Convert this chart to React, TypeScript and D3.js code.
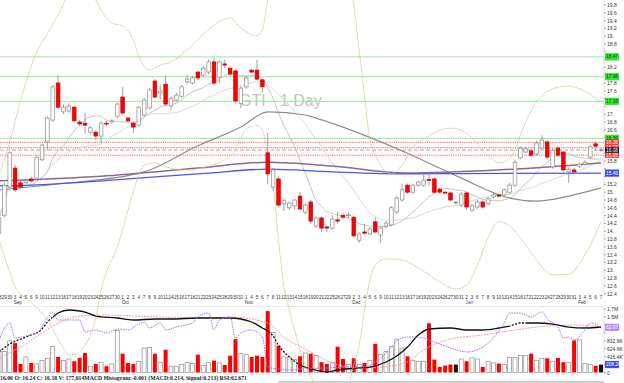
import React from 'react';
import * as d3 from 'd3';

const W = 624;
const H = 383;

// ---------- data ----------
const dayLabels = [
  '28','29','30',
  '3','4','5','6','9','10','11','12','13','16','17','18','19','20','23','24','25','26','27','30',
  '1','2','3','4','7','8','9','10','11','14','15','16','17','18','21','22','23','24','25','28','29','30','31',
  '1','4','5','6','7','8','11','12','13','14','15','18','19','20','21','22','25','26','27','29',
  '2','3','4','5','6','9','10','11','12','13','16','17','18','19','20','23','24','26','27','30','31',
  '2','3','6','7','8','9','10','13','14','15','16','17','21','22','23','24','27','28','29','30','31',
  '3','4','5','6','7'
];
const monthLabels = [
  { index: 3, label: 'Sep' },
  { index: 23, label: 'Oct' },
  { index: 46, label: 'Nov' },
  { index: 66, label: 'Dec' },
  { index: 87, label: 'Jan' },
  { index: 108, label: 'Feb' },
];

const opens = [13.95,14.41,15.13,15.62,15.24,15.24,15.34,15.36,15.83,16.29,16.85,17.80,17.06,17.08,17.18,16.80,16.77,16.54,16.54,16.44,16.77,16.80,16.95,17.44,16.90,16.77,16.72,16.98,17.16,17.85,17.54,17.77,17.21,17.36,17.46,17.83,17.80,18.08,18.00,18.08,18.34,17.95,18.29,18.18,18.11,17.28,17.70,18.13,18.13,17.88,16.01,15.13,15.34,14.70,14.60,14.65,14.90,14.49,14.75,14.13,14.34,14.11,14.08,14.29,14.41,14.40,14.36,13.77,13.98,13.93,14.24,13.90,14.13,14.16,14.49,14.80,15.18,15.00,15.18,15.18,15.33,15.34,15.08,15.00,14.98,14.73,14.67,14.98,14.54,14.62,14.75,14.70,14.88,14.93,14.93,15.00,15.18,15.88,16.03,16.06,15.98,16.13,16.29,15.65,16.13,16.03,15.52,15.57,15.67,15.72,15.90,16.24,16.08];
const highs = [14.40,15.25,16.05,15.70,15.30,15.35,15.40,15.95,16.25,16.95,17.75,18.00,17.25,17.28,17.22,16.85,17.05,16.70,16.58,16.82,16.82,16.88,17.30,17.70,16.95,16.80,17.22,17.42,17.68,17.90,17.75,18.00,17.46,17.54,17.75,18.00,17.98,18.12,18.24,18.40,18.45,18.38,18.40,18.22,18.15,17.72,17.98,18.16,18.40,17.92,16.52,15.62,15.40,14.84,14.76,14.82,15.00,14.72,14.80,14.38,14.38,14.14,14.42,14.50,14.46,14.48,14.40,13.97,14.20,14.10,14.36,14.12,14.26,14.64,14.90,15.22,15.22,15.22,15.30,15.44,15.44,15.38,15.12,15.04,15.02,14.78,15.00,15.02,14.70,14.80,14.78,14.88,14.98,14.96,15.10,15.24,15.82,16.18,16.16,16.10,16.32,16.46,16.33,16.12,16.18,16.06,15.64,15.62,15.76,15.82,16.22,16.30,16.14];
const lows = [13.90,14.35,15.10,15.00,15.08,15.20,15.25,15.33,15.80,16.08,16.80,17.12,17.00,17.04,16.78,16.70,16.50,16.48,16.34,16.26,16.70,16.76,16.90,16.98,16.78,16.52,16.68,16.94,17.12,17.40,17.38,17.22,17.10,17.32,17.42,17.78,17.76,17.88,17.95,18.02,17.75,17.80,18.18,17.98,17.28,17.16,17.65,18.05,17.86,17.56,15.20,15.05,14.62,14.52,14.55,14.55,14.52,14.44,14.20,14.08,13.98,13.98,14.04,14.20,14.30,14.34,13.84,13.70,13.92,13.90,13.95,13.70,14.08,14.12,14.44,14.76,14.96,14.96,15.14,15.14,15.18,14.96,14.96,14.94,14.76,14.68,14.62,14.54,14.50,14.58,14.58,14.66,14.84,14.86,14.88,14.96,15.14,15.84,16.00,15.90,15.94,16.10,15.86,15.60,15.90,15.52,15.24,15.46,15.62,15.68,15.86,16.06,16.04];
const closes = [14.34,15.18,16.01,15.06,15.13,15.29,15.29,15.90,16.21,16.90,17.70,17.18,17.18,17.21,16.83,16.75,16.72,16.65,16.44,16.77,16.75,16.83,17.26,17.03,16.83,16.67,17.18,17.36,17.62,17.44,17.59,17.26,17.41,17.49,17.70,17.90,17.93,17.93,18.18,18.34,17.80,18.34,18.26,18.03,17.34,17.67,17.93,18.08,17.90,17.70,15.47,15.57,14.67,14.78,14.72,14.80,14.57,14.67,14.26,14.34,14.08,14.08,14.31,14.26,14.36,14.42,13.88,13.93,13.95,14.06,13.98,14.08,14.21,14.60,14.85,15.06,15.00,15.18,15.26,15.31,15.30,15.00,15.00,14.98,14.80,14.73,14.95,14.62,14.65,14.75,14.62,14.83,14.93,14.90,15.06,15.18,15.77,16.13,16.11,15.95,16.26,16.34,15.90,16.08,15.95,15.57,15.59,15.52,15.72,15.77,16.16,16.18,16.08];
const volumes = [600000,555000,832000,771000,225000,407000,251000,225000,312000,373000,685000,407000,312000,355000,295000,381000,511000,165000,225000,269000,165000,225000,1100000,494000,251000,225000,286000,641000,659000,494000,269000,598000,165000,165000,208000,269000,234000,468000,182000,269000,312000,251000,199000,442000,875000,494000,468000,407000,442000,407000,1610000,1050000,702000,407000,407000,338000,425000,511000,494000,442000,269000,225000,269000,676000,355000,208000,373000,208000,251000,321000,754000,468000,555000,685000,875000,641000,425000,321000,295000,295000,1290000,338000,147000,182000,208000,208000,355000,295000,381000,355000,147000,295000,251000,234000,208000,399000,399000,442000,442000,494000,321000,373000,373000,295000,381000,269000,269000,841000,858000,234000,208000,177014,208000];

// moving averages: [day index, price]
const ma50: [number, number][] = [[0,15.06],[11,15.21],[27,15.52],[37,16.19],[45,16.67],[50,17.06],[57,16.98],[59,16.90],[76,16.00],[86,15.36],[95,14.85],[100,14.77],[106,14.90],[112,15.11]];
const ma100: [number, number][] = [[0,15.29],[19,15.41],[37,15.62],[50,15.77],[62,15.67],[76,15.49],[93,15.57],[112,15.75]];
const ma200: [number, number][] = [[0,15.16],[6,15.18],[21,15.31],[39,15.49],[50,15.59],[62,15.52],[76,15.47],[112,15.49]];
const bbUpper: [number, number][] = [[0,15.44],[1,15.83],[2,16.29],[4,17.34],[7,18.59],[9,19.06],[12,19.83],[14,20.49],[16,20.57],[18,19.93],[20,19.47],[21,19.34],[23,19.26],[25,18.90],[26,18.49],[28,18.13],[30,18.26],[32,18.34],[35,18.65],[39,19.18],[43,19.47],[45,19.21],[48,19.01],[49,19.16],[50,19.93],[51,20.44],[55,21.72],[60,21.72],[64,20.57],[66,19.80],[67,18.65],[68,17.49],[69,16.34],[70,15.95],[72,15.52],[73,15.47],[75,15.70],[77,16.16],[80,16.44],[82,16.59],[84,16.64],[86,16.59],[88,16.39],[90,16.08],[92,15.82],[93,15.75],[95,15.87],[96,16.08],[97,16.47],[98,16.80],[100,17.31],[103,17.65],[106,17.72],[108,17.65],[112,17.31]];
const bbLower: [number, number][] = [[0,13.77],[2,12.95],[3,12.57],[6,12.18],[9,11.72],[12,11.00],[13,10.83],[14,10.83],[16,11.08],[17,11.34],[18,11.77],[19,12.49],[20,12.95],[22,13.59],[24,14.54],[26,15.44],[27,15.70],[29,15.75],[31,15.65],[35,15.57],[39,15.67],[42,15.83],[44,16.08],[45,16.39],[46,16.62],[48,16.72],[49,16.59],[50,15.95],[51,15.18],[52,13.77],[53,12.62],[54,11.98],[55,11.47],[56,10.95],[57,10.57],[59,10.06],[62,9.80],[65,10.06],[66,10.57],[67,11.08],[68,11.98],[69,12.75],[70,13.13],[72,13.29],[75,13.26],[78,13.06],[82,12.70],[85,12.52],[87,12.62],[89,13.13],[91,13.83],[93,14.24],[95,14.13],[97,13.83],[100,13.26],[103,12.88],[106,12.90],[109,13.39],[112,14.24]];

// lower panel indicators: [day index, value]
const macdLine: [number, number][] = [[0,-0.184],[2,-0.057],[5,0.054],[8,0.182],[9,0.293],[10,0.372],[11,0.436],[13,0.484],[15,0.468],[16,0.452],[18,0.388],[22,0.357],[25,0.325],[29,0.341],[32,0.341],[37,0.357],[43,0.357],[47,0.293],[49,0.198],[50,0.150],[51,0.070],[52,-0.073],[54,-0.264],[56,-0.391],[58,-0.454],[61,-0.502],[63,-0.470],[67,-0.438],[69,-0.423],[72,-0.343],[74,-0.248],[76,-0.105],[78,0.086],[80,0.182],[84,0.198],[87,0.166],[90,0.166],[93,0.198],[95,0.229],[97,0.277],[100,0.277],[103,0.261],[106,0.213],[109,0.198],[112,0.214]];
const signalLine: [number, number][] = [[0,-0.279],[4,-0.105],[8,0.118],[11,0.277],[15,0.388],[19,0.404],[25,0.388],[39,0.357],[43,0.372],[50,0.277],[53,0.054],[58,-0.184],[62,-0.359],[65,-0.423],[68,-0.438],[74,-0.391],[76,-0.343],[79,-0.152],[84,0.023],[90,0.086],[96,0.166],[102,0.229],[108,0.245],[112,0.213]];
const rsiLine: [number, number][] = [[0,50.7],[2,66.8],[3,52.6],[5,54.5],[7,57.3],[9,71.5],[10,77.2],[11,69.6],[13,69.6],[15,69.6],[16,58.3],[18,60.2],[20,57.3],[22,61.1],[24,60.2],[26,65.8],[27,67.7],[28,62.1],[30,66.8],[31,60.2],[33,63.0],[36,66.8],[37,72.4],[39,76.2],[40,60.2],[41,69.6],[43,72.4],[44,52.6],[45,57.3],[47,60.2],[49,53.5],[50,25.2],[52,23.3],[54,22.4],[56,23.3],[61,24.3],[65,25.2],[68,25.2],[70,29.9],[72,38.4],[74,49.8],[76,53.5],[78,53.5],[80,50.7],[84,43.2],[87,39.4],[90,44.1],[92,52.6],[94,66.8],[95,76.2],[97,76.2],[99,72.4],[101,77.2],[102,70.6],[104,63.0],[105,52.6],[106,53.5],[107,50.7],[109,60.2],[110,66.8],[112,62.67]];
const macdDashed: [number, number][] = [[0, 10], [50, 56], [95, 98]];

// horizontal level lines
const greenLevels = [18.47, 17.96, 17.33, 16.38];
const greenLabels = ['18.47', '17.96', '17.33', '16.36'];
const redLevels = [16.28, 16.14, 15.95];
const redLabels = ['16.28', '16.14', '15.95'];
const greyLevel = 16.08;
const greyLabel = '16.08';
const blueLabel = '15.49';
const blueLevel = 15.49;
const rsiLast = 62.67;
const rsiLabel = '62.67';

const volTicks = [0, 1, 2, 3, 4, 5, 6, 7, 8];
const volTickLabels = ['0', '208.2K', '416.4K', '624.6K', '832.8K', '1.0M', '1.2M', '1.5M', '1.7M'];
const volStep = 208200;

const infoText = '16.06 O: 16.24 C: 16.18 V: 177,014MACD Histogram:-0.001 (MACD:0.214, Signal:0.213) RSI:62.671';

function sma(values: number[], n: number): [number, number][] {
  return values.map((_, i) => {
    const s = values.slice(Math.max(0, i - n + 1), i + 1);
    return [i, d3.mean(s) as number];
  });
}

export default function App() {
  const n = closes.length;
  const x = d3.scaleLinear().domain([0, n - 1]).range([-1, 601]);
  const yP = d3.scaleLinear().domain([12.6, 19.8]).range([285.8, 5]);
  const yV = d3.scaleLinear().domain([0, volStep * 8]).range([372.5, 309]);
  const yM = d3.scaleLinear().domain([-0.51, 0.5]).range([372.5, 309]);
  const yR = d3.scaleLinear().domain([20, 80]).range([372.5, 309]);

  const lp = d3.line<[number, number]>().x(d => x(d[0])).y(d => yP(d[1])).curve(d3.curveMonotoneX);
  const lm = d3.line<[number, number]>().x(d => x(d[0])).y(d => yM(d[1])).curve(d3.curveMonotoneX);
  const lr = d3.line<[number, number]>().x(d => x(d[0])).y(d => yR(d[1])).curve(d3.curveMonotoneX);

  const sma10 = sma(closes, 10);
  const sma20 = sma(closes, 20);

  const priceTicks = d3.range(62, 100).map(k => k / 5);
  const fmtP = (v: number) => (Math.round(v * 10) % 10 === 0 ? `${Math.round(v)}.` : v.toFixed(1));

  const solidRanges: [number, number][] = [];
  let prev = 0;
  macdDashed.forEach(([a, b]) => {
    if (a > prev) solidRanges.push([prev, a]);
    prev = b;
  });
  solidRanges.push([prev, n + 2]);

  const boxYs = [
    ...greenLevels.map(v => yP(v)),
    ...redLevels.map(v => yP(v)),
    yP(greyLevel), yP(blueLevel), yR(rsiLast), yV(volStep),
  ];
  const hidden = (yy: number) => boxYs.some(b => Math.abs(b - yy) < 5.5);

  const axisX = 604;
  const labelBox = (yc: number, text: string, bg: string, fg: string, key: string, h = 7.2) => (
    <g key={key}>
      <rect x={605} y={yc - h / 2} width={14} height={h} fill={bg} />
      <text x={606} y={yc} dominantBaseline="central" fontSize={4.8} fill={fg}>{text}</text>
    </g>
  );

  return (
    <svg width={W} height={H} style={{ position: 'absolute', left: 0, top: 0, background: '#fff' }}
      fontFamily="'Liberation Sans', Arial, sans-serif">
      <defs>
        <clipPath id="plotClip"><rect x={0} y={0} width={axisX} height={H} /></clipPath>
        <clipPath id="macdSolid">
          {solidRanges.map(([a, b], k) => (
            <rect key={k} x={x(a)} y={300} width={x(b) - x(a)} height={80} />
          ))}
        </clipPath>
        <clipPath id="macdDash">
          {macdDashed.map(([a, b], k) => (
            <rect key={k} x={k === 0 ? -5 : x(a)} y={300} width={x(b) - (k === 0 ? -5 : x(a))} height={80} />
          ))}
        </clipPath>
      </defs>

      {/* watermark */}
      <text x={239} y={106} fontSize={16} fill="#c4c4c4">GTI - 1 Day</text>

      {/* volume panel */}
      <line x1={0} x2={axisX} y1={306.5} y2={306.5} stroke="#e2e2e2" strokeWidth={0.8} />
      <g>
        {volumes.map((v, i) => {
          const up = closes[i] > opens[i];
          const flat = closes[i] === opens[i];
          const fill = flat ? '#111' : up ? '#fff' : '#ff0000';
          return (
            <rect key={i} x={x(i) - 2} y={yV(v)} width={4} height={yV(0) - yV(v)}
              fill={fill} stroke={up ? '#8c8c8c' : 'none'} strokeWidth={0.7} />
          );
        })}
      </g>
      <path d={lm(signalLine) || ''} fill="none" stroke="#ff9a9a" strokeWidth={1} strokeDasharray="2,1" />
      <path d={lm(macdLine) || ''} fill="none" stroke="#111" strokeWidth={1.3} clipPath="url(#macdSolid)" />
      <path d={lm(macdLine) || ''} fill="none" stroke="#111" strokeWidth={1.3} strokeDasharray="2,1.5" clipPath="url(#macdDash)" />
      <path d={lr(rsiLine) || ''} fill="none" stroke="#a070ff" strokeWidth={1} strokeDasharray="1.5,1" />

      {/* horizontal levels */}
      {greenLevels.map((v, k) => (
        <line key={'g' + k} x1={0} x2={axisX} y1={yP(v)} y2={yP(v)} stroke="#9be89b" strokeWidth={1} />
      ))}
      {redLevels.map((v, k) => (
        <line key={'r' + k} x1={0} x2={axisX} y1={yP(v)} y2={yP(v)} stroke="#ff4a4a" strokeWidth={0.9} strokeDasharray="1.2,1" />
      ))}
      <line x1={0} x2={axisX} y1={yP(greyLevel)} y2={yP(greyLevel)} stroke="#9a9a9a" strokeWidth={0.8} strokeDasharray="4,2" />

      {/* moving averages */}
      <g clipPath="url(#plotClip)">
        <path d={lp(sma20) || ''} fill="none" stroke="#dadada" strokeWidth={1} />
        <path d={lp(sma10) || ''} fill="none" stroke="#c4c4c4" strokeWidth={1} />
        <path d={lp(ma50) || ''} fill="none" stroke="#8e8e8e" strokeWidth={1.2} />
        <path d={lp(ma100) || ''} fill="none" stroke="#8a6a8e" strokeWidth={1.5} />
        <path d={lp(ma200) || ''} fill="none" stroke="#4a55ee" strokeWidth={1.3} />
        <path d={lp(bbUpper) || ''} fill="none" stroke="#cfc88e" strokeWidth={1} strokeDasharray="1.5,0.8" />
        <path d={lp(bbLower) || ''} fill="none" stroke="#cfc88e" strokeWidth={1} strokeDasharray="1.5,0.8" />
      </g>

      {/* candles */}
      <g>
        {closes.map((c, i) => {
          const o = opens[i];
          const cx = x(i);
          const up = c > o;
          const flat = c === o;
          const top = yP(Math.max(o, c));
          const bot = yP(Math.min(o, c));
          return (
            <g key={i}>
              <line x1={cx} x2={cx} y1={yP(highs[i])} y2={yP(lows[i])} stroke="#8a8a8a" strokeWidth={0.8} />
              {flat ? (
                <line x1={cx - 1.9} x2={cx + 1.9} y1={top} y2={top} stroke="#555" strokeWidth={0.9} />
              ) : (
                <rect x={cx - 1.8} y={top} width={3.6} height={Math.max(bot - top, 0.9)}
                  fill={up ? '#fff' : '#ff0000'} stroke={up ? '#8a8a8a' : '#c80000'} strokeWidth={0.7} />
              )}
            </g>
          );
        })}
      </g>

      {/* date axis */}
      <g fontSize={4.6} fill="#333" textAnchor="middle">
        {dayLabels.map((d, i) => (
          <text key={i} x={x(i)} y={299}>{d}</text>
        ))}
        {monthLabels.map(m => (
          <text key={m.label} x={x(m.index) + 2.7} y={304} fill={m.label === 'Jan' ? '#3050e0' : '#333'}>{m.label}</text>
        ))}
      </g>

      {/* right axis */}
      <line x1={axisX} x2={axisX} y1={0} y2={296} stroke="#cfcfcf" strokeWidth={0.7} />
      <line x1={axisX} x2={axisX} y1={307} y2={374} stroke="#cfcfcf" strokeWidth={0.7} />
      <g fontSize={5} fill="#333">
        {priceTicks.map(v => (
          <g key={v}>
            <line x1={axisX} x2={axisX + 2} y1={yP(v)} y2={yP(v)} stroke="#777" strokeWidth={0.6} />
            {!hidden(yP(v)) && <text x={607} y={yP(v)} dominantBaseline="central">{fmtP(v)}</text>}
          </g>
        ))}
        {volTicks.map(k => (
          <g key={'v' + k}>
            <line x1={axisX} x2={axisX + 2} y1={yV(k * volStep)} y2={yV(k * volStep)} stroke="#777" strokeWidth={0.6} />
            {!hidden(yV(k * volStep)) && (
              <text x={607} y={yV(k * volStep)} dominantBaseline="central">{volTickLabels[k]}</text>
            )}
          </g>
        ))}
      </g>
      {greenLevels.map((v, k) => labelBox(yP(v), greenLabels[k], '#2fe62f', '#063806', 'gl' + k))}
      {labelBox(yP(blueLevel), blueLabel, '#3a4cf0', '#fff', 'bl')}
      {labelBox(yR(rsiLast), rsiLabel, '#b48cff', '#fff', 'rsil')}
      {labelBox(yV(volStep), '208.2K', '#3a4cf0', '#fff', 'vl')}
      {labelBox(yP(redLevels[0]), redLabels[0], '#ff3030', '#fff', 'rl0', 5.4)}
      {labelBox(yP(redLevels[2]), redLabels[2], '#ff3030', '#fff', 'rl2', 5.4)}
      {labelBox(yP(redLevels[1]), redLabels[1], '#ff3030', '#fff', 'rl1', 5.0)}
      {labelBox(yP(greyLevel), greyLabel, '#151515', '#fff', 'kl', 5.4)}

      {/* info line */}
      <text x={0} y={380} fontSize={6} fontWeight="bold" fontFamily="'Liberation Serif', 'Times New Roman', serif"
        fill="#222" textLength={247} lengthAdjust="spacingAndGlyphs">{infoText}</text>
      <rect x={278} y={381} width={326} height={2} fill="#cfcfcf" />
    </svg>
  );
}
